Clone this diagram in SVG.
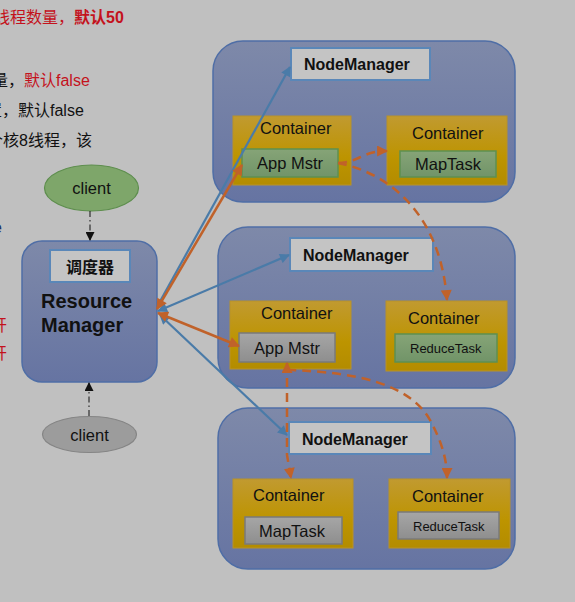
<svg xmlns="http://www.w3.org/2000/svg" width="575" height="602" viewBox="0 0 575 602">
<style>
text{font-family:"Liberation Sans","Noto Sans CJK SC",sans-serif;fill:#111}
.side{font-size:16px}
.red{fill:#c4121c}
.nmbox{fill:url(#gNM);stroke:#4f6ea6;stroke-width:1.5}
.label{fill:#c4c4c4;stroke:#5a87b8;stroke-width:2}
.nmt{font-size:16px;font-weight:bold}
.cont{fill:url(#gC);stroke:#b8922a;stroke-width:1}
.ct{font-size:16.5px}
.green{fill:url(#gG);stroke:#5e9050;stroke-width:1.5}
.gray{fill:url(#gY);stroke:#7a7a7a;stroke-width:1.5}
.blue{stroke:#4a7ba8;stroke-width:2.2;fill:none}
.or{stroke:#c0622a;stroke-width:2.5;fill:none}
.ord{stroke:#c0622a;stroke-width:2.5;fill:none;stroke-dasharray:9 6}
.blk{stroke:#111;stroke-width:1;fill:none;stroke-dasharray:6 3 1.5 3}
</style>
<defs>
<linearGradient id="gNM" x1="0" y1="0" x2="0" y2="1"><stop offset="0" stop-color="#7e89a9"/><stop offset="1" stop-color="#6674a2"/></linearGradient>
<linearGradient id="gC" x1="0" y1="0" x2="0" y2="1"><stop offset="0" stop-color="#c19a30"/><stop offset="0.6" stop-color="#bd9400"/><stop offset="1" stop-color="#b38c00"/></linearGradient>
<linearGradient id="gG" x1="0" y1="0" x2="0" y2="1"><stop offset="0" stop-color="#86a477"/><stop offset="1" stop-color="#719468"/></linearGradient>
<linearGradient id="gY" x1="0" y1="0" x2="0" y2="1"><stop offset="0" stop-color="#a6a6a6"/><stop offset="1" stop-color="#8e8e8e"/></linearGradient>
<marker id="aB" viewBox="0 0 10 10" refX="9" refY="5" markerWidth="12" markerHeight="10" markerUnits="userSpaceOnUse" orient="auto-start-reverse"><path d="M0,0 L10,5 L0,10 z" fill="#4a7ba8"/></marker>
<marker id="aO" viewBox="0 0 10 10" refX="9" refY="5" markerWidth="13" markerHeight="11" markerUnits="userSpaceOnUse" orient="auto-start-reverse"><path d="M0,0 L10,5 L0,10 z" fill="#c0622a"/></marker>
<marker id="aK" viewBox="0 0 10 10" refX="9" refY="5" markerWidth="10" markerHeight="9" markerUnits="userSpaceOnUse" orient="auto-start-reverse"><path d="M0,0 L10,5 L0,10 z" fill="#111"/></marker>
</defs>
<rect x="0" y="0" width="575" height="602" fill="#c0c0c0"/>

<g id="sidetext" class="side">
<text x="-6" y="23" class="red">线程数量，<tspan font-weight="bold">默认50</tspan></text>
<text x="-8" y="86">量，<tspan class="red">默认false</tspan></text>
<text x="-14" y="116">置，默认false</text>
<text x="-13" y="146">个核8线程，该</text>
<text x="-7" y="233" style="fill:#1f3060">e</text>
<text x="-9" y="331" class="red">开</text>
<text x="-9" y="359" class="red">开</text>
</g>

<g id="nm1">
<rect class="nmbox" x="213" y="41" width="302" height="161" rx="30"/>
<rect class="label" x="291" y="48" width="139" height="32"/>
<text class="nmt" x="304" y="70">NodeManager</text>
</g>
<g id="nm2">
<rect class="nmbox" x="218" y="227" width="297" height="161" rx="30"/>
<rect class="label" x="290" y="238" width="143" height="33"/>
<text class="nmt" x="303" y="261">NodeManager</text>
</g>
<g id="nm3">
<rect class="nmbox" x="218" y="408" width="297" height="161" rx="30"/>
<rect class="label" x="289" y="422" width="142" height="32"/>
<text class="nmt" x="302" y="445">NodeManager</text>
</g>

<g id="c1">
<rect class="cont" x="233" y="116" width="118" height="69"/>
<text class="ct" x="260" y="134">Container</text>
<rect class="green" x="242" y="149" width="96" height="28"/>
<text class="ct" x="257" y="169">App Mstr</text>
</g>
<g id="c2">
<rect class="cont" x="387" y="116" width="120" height="69"/>
<text class="ct" x="412" y="139">Container</text>
<rect class="green" x="400" y="151" width="96" height="26"/>
<text class="ct" x="415" y="170">MapTask</text>
</g>
<g id="c3">
<rect class="cont" x="230" y="301" width="121" height="68"/>
<text class="ct" x="261" y="319">Container</text>
<rect class="gray" x="239" y="333" width="96" height="29"/>
<text class="ct" x="254" y="354">App Mstr</text>
</g>
<g id="c4">
<rect class="cont" x="386" y="301" width="121" height="70"/>
<text class="ct" x="408" y="324">Container</text>
<rect class="green" x="395" y="334" width="102" height="28"/>
<text x="410" y="353" font-size="13px">ReduceTask</text>
</g>
<g id="c5">
<rect class="cont" x="233" y="479" width="120" height="69"/>
<text class="ct" x="253" y="501">Container</text>
<rect class="gray" x="245" y="517" width="97" height="27"/>
<text class="ct" x="259" y="537">MapTask</text>
</g>
<g id="c6">
<rect class="cont" x="389" y="479" width="121" height="69"/>
<text class="ct" x="412" y="502">Container</text>
<rect class="gray" x="398" y="512" width="101" height="27"/>
<text x="413" y="531" font-size="13px">ReduceTask</text>
</g>

<g id="rm">
<rect class="nmbox" x="22" y="241" width="135" height="141" rx="20"/>
<rect class="label" x="50" y="250" width="80" height="32"/>
<text x="90" y="273" font-size="16px" font-weight="bold" text-anchor="middle">调度器</text>
<text x="41" y="308" font-size="20px" font-weight="bold">Resource</text>
<text x="41" y="332" font-size="20px" font-weight="bold">Manager</text>
</g>

<g id="client1">
<ellipse cx="91.5" cy="188" rx="47" ry="23" fill="#7ea66a" stroke="#5e8e4e" stroke-width="1.2"/>
<text x="91.5" y="194" font-size="16.5px" text-anchor="middle">client</text>
</g>
<g id="client2">
<ellipse cx="89.5" cy="434.5" rx="47" ry="18" fill="#9c9c9c" stroke="#858585" stroke-width="1.2"/>
<text x="89.5" y="441" font-size="16.5px" text-anchor="middle">client</text>
</g>

<g id="connectors">
<line class="blk" x1="90" y1="211" x2="90" y2="240" marker-end="url(#aK)"/>
<line class="blk" x1="89" y1="416" x2="89" y2="383" marker-end="url(#aK)"/>
<line class="blue" x1="158" y1="305" x2="290" y2="67" marker-end="url(#aB)"/>
<line class="blue" x1="158" y1="311" x2="289" y2="255" marker-start="url(#aB)" marker-end="url(#aB)"/>
<line class="blue" x1="160" y1="315" x2="287" y2="435" marker-start="url(#aB)" marker-end="url(#aB)"/>
<line class="or" x1="157" y1="309" x2="242" y2="165" marker-start="url(#aO)" marker-end="url(#aO)"/>
<line class="or" x1="158" y1="313" x2="239" y2="346" marker-start="url(#aO)" marker-end="url(#aO)"/>
<path class="ord" d="M338,163 C358,163 362,151 387,151" marker-end="url(#aO)"/>
<path class="ord" d="M338,163 C385,172 440,210 447,300" marker-end="url(#aO)"/>
<path class="ord" d="M287,363 L287,455 L291,478" marker-start="url(#aO)" marker-end="url(#aO)"/>
<path class="ord" d="M287,370 C360,372 410,385 430,420 C442,442 447,460 447,478" marker-end="url(#aO)"/>
</g>
</svg>
